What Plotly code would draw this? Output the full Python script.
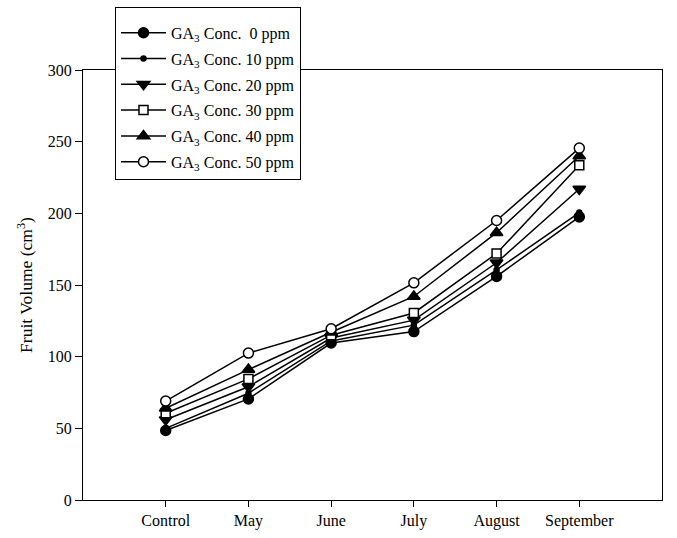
import plotly.graph_objects as go

months = ["Control", "May", "June", "July", "August", "September"]

ga_0 = [48.5, 70.5, 109.5, 117.5, 156, 197.5]
ga_10 = [50, 74.5, 111, 122, 160.5, 200.5]
ga_20 = [56, 79, 113, 125.5, 165.5, 217]
ga_30 = [60.5, 84.5, 115, 130.5, 172, 233.5]
ga_40 = [64, 91, 117, 142, 186.5, 240]
ga_50 = [69, 102.5, 119.5, 151.5, 195, 245.5]

series = [
    ("GA<sub>3</sub> Conc.  0 ppm", ga_0, "circle", 10, "black"),
    ("GA<sub>3</sub> Conc. 10 ppm", ga_10, "circle", 5, "black"),
    ("GA<sub>3</sub> Conc. 20 ppm", ga_20, "triangle-down", 11, "black"),
    ("GA<sub>3</sub> Conc. 30 ppm", ga_30, "square", 9, "white"),
    ("GA<sub>3</sub> Conc. 40 ppm", ga_40, "triangle-up", 11, "black"),
    ("GA<sub>3</sub> Conc. 50 ppm", ga_50, "circle", 10, "white"),
]

fig = go.Figure()
for i, (name, vals, sym, size, fill) in enumerate(series):
    fig.add_trace(go.Scatter(
        x=list(range(len(months))), y=vals, name=name, mode="lines+markers",
        legendgroup=f"g{i}",
        line=dict(color="black", width=1.5),
        marker=dict(symbol=sym, size=size, color=fill,
                    line=dict(color="black", width=1.5)),
    ))

font = "Liberation Serif, Times New Roman, serif"
W, H = 677, 538
L, R, T, B = 83, 15, 70, 38
fig.update_layout(
    width=W, height=H,
    margin=dict(l=L, r=R, t=T, b=B, autoexpand=False),
    paper_bgcolor="white", plot_bgcolor="white",
    font=dict(family=font, size=16, color="black"),
    showlegend=True,
    legend=dict(
        x=(115 - L) / (W - L - R), y=(H - B - 7) / (H - T - B),
        xanchor="left", yanchor="top",
        bgcolor="white", bordercolor="black", borderwidth=1,
        font=dict(family=font, size=16, color="black"),
        title=dict(text=" ", font=dict(size=6)),
        tracegroupgap=2, itemwidth=45,
    ),
    xaxis=dict(
        range=[-1, 6], tickmode="array", tickvals=list(range(len(months))),
        ticktext=months, tickangle=0, ticks="outside", ticklen=6, tickcolor="black",
        showline=True, linecolor="black", linewidth=1, mirror=True,
        showgrid=False, zeroline=False,
    ),
    yaxis=dict(
        range=[0, 300], dtick=50, ticks="outside", ticklen=7, tickcolor="black",
        showline=True, linecolor="black", linewidth=1, mirror=True,
        showgrid=False, zeroline=False,
        title=dict(text="Fruit Volume (cm<sup>3</sup>)", standoff=10,
                   font=dict(family=font, size=17.5)),
    ),
)

fig.write_html("out.html")
